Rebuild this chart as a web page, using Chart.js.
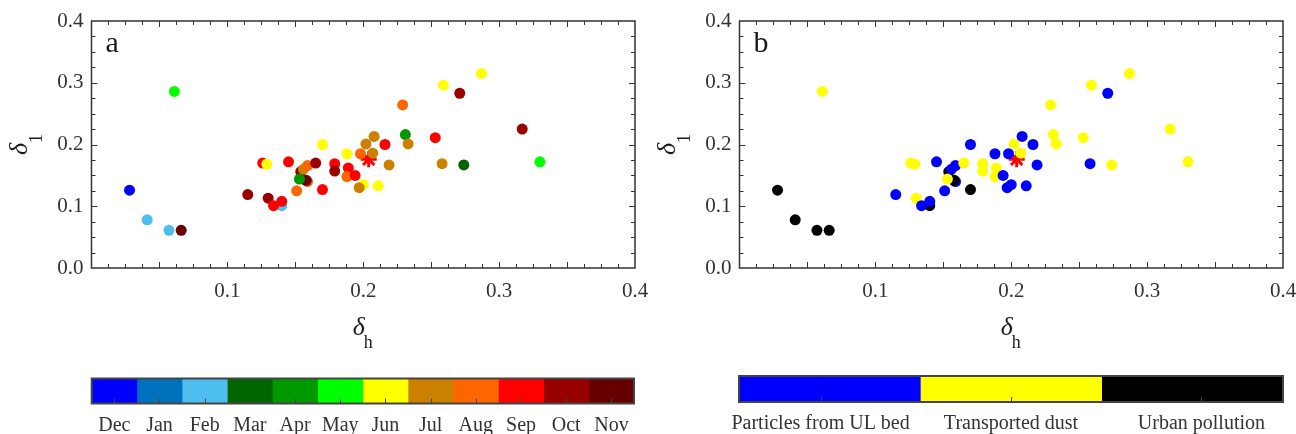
<!DOCTYPE html>
<html>
<head>
<meta charset="utf-8">
<script src="https://cdn.jsdelivr.net/npm/chart.js@4.4.1/dist/chart.umd.min.js"></script>
<style>
  body { margin: 0; background: #fff; }
  .wrap { position: relative; width: 1296px; height: 434px; }
  canvas { position: absolute; }
</style>
</head>
<body>
<div class="wrap">
  <canvas id="scatterA" width="648" height="360" style="left:0;top:0"></canvas>
  <canvas id="scatterB" width="648" height="360" style="left:648px;top:0"></canvas>
  <canvas id="barA" width="648" height="74" style="left:0;top:360px"></canvas>
  <canvas id="barB" width="648" height="74" style="left:648px;top:360px"></canvas>
</div>
<script>
// sample values: delta_h, delta_1, month of sample, source class
const deltaH = [0.028, 0.041, 0.057, 0.066, 0.061, 0.115, 0.126, 0.129, 0.130, 0.140,
                0.134, 0.140, 0.145, 0.151, 0.154, 0.156, 0.159, 0.159, 0.158, 0.153,
                0.165, 0.170, 0.170, 0.179, 0.179, 0.188, 0.189, 0.188, 0.194, 0.198,
                0.200, 0.197, 0.202, 0.208, 0.207, 0.216, 0.219, 0.211, 0.229, 0.231,
                0.233, 0.253, 0.258, 0.259, 0.271, 0.274, 0.287, 0.317, 0.330];
const delta1 = [0.126, 0.078, 0.061, 0.061, 0.286, 0.119, 0.170, 0.168, 0.113, 0.101,
                0.101, 0.108, 0.172, 0.125, 0.156, 0.160, 0.166, 0.140, 0.142, 0.144,
                0.170, 0.200, 0.127, 0.169, 0.157, 0.185, 0.162, 0.148, 0.150, 0.185,
                0.135, 0.130, 0.201, 0.213, 0.186, 0.200, 0.167, 0.133, 0.264, 0.216,
                0.201, 0.211, 0.169, 0.296, 0.283, 0.167, 0.315, 0.225, 0.172];
const sampleMonth = ['Dec', 'Feb', 'Feb', 'Nov', 'May', 'Oct', 'Sep', 'Jun', 'Oct', 'Feb',
                     'Sep', 'Sep', 'Sep', 'Aug', 'Oct', 'Jul', 'Aug', 'Aug', 'Nov', 'Apr',
                     'Oct', 'Jun', 'Sep', 'Sep', 'Oct', 'Jun', 'Sep', 'Aug', 'Sep', 'Aug',
                     'Jun', 'Jul', 'Jul', 'Jul', 'Jul', 'Sep', 'Jul', 'Jun', 'Aug', 'Apr',
                     'Jul', 'Sep', 'Jul', 'Jun', 'Oct', 'Mar', 'Jun', 'Oct', 'May'];
const sampleSource = [2, 2, 2, 2, 1, 0, 1, 1, 1, 2,
                      0, 0, 0, 0, 2, 0, 0, 0, 2, 1,
                      1, 0, 2, 1, 1, 0, 1, 1, 0, 0,
                      0, 0, 1, 0, 1, 0, 0, 0, 1, 1,
                      1, 1, 0, 1, 0, 1, 1, 1, 1];
// mean point (red star)
const meanH = [0.204];
const mean1 = [0.176];

const months = ['Dec', 'Jan', 'Feb', 'Mar', 'Apr', 'May', 'Jun', 'Jul', 'Aug', 'Sep', 'Oct', 'Nov'];
const monthColors = ['#0000ff', '#0072bd', '#4dbeee', '#006400', '#009900', '#00ff00',
                     '#ffff00', '#cc8000', '#ff6600', '#ff0000', '#990000', '#660000'];
const sources = ['Particles from UL bed', 'Transported dust', 'Urban pollution'];
const sourceColors = ['#0000ff', '#ffff00', '#000000'];
const sourceTicks = [0.45, 1.5, 2.55];
const monthTicks = months.map((m, i) => i + 0.5);

const xTicks = [0.1, 0.2, 0.3, 0.4];
const yTicks = [0.0, 0.1, 0.2, 0.3, 0.4];

const serif = '"Liberation Serif", "Times New Roman", serif';
const ink = '#333';

// box, inward ticks, axis titles and panel letter
const frame = {
  id: 'frame',
  afterDraw(chart, args, opts) {
    const { ctx, chartArea: a, scales: { x, y } } = chart;
    ctx.save();
    ctx.strokeStyle = ink;
    ctx.lineWidth = 1;
    ctx.beginPath();
    for (let v = 0.0125; v < 0.4; v += 0.0125) {
      const px = Math.round(x.getPixelForValue(v)) + 0.5;
      const len = Math.abs(v / 0.05 - Math.round(v / 0.05)) < 1e-6 ? 6 : 4;
      ctx.moveTo(px, a.bottom); ctx.lineTo(px, a.bottom - len);
      ctx.moveTo(px, a.top); ctx.lineTo(px, a.top + len);
    }
    for (let v = 0.025; v < 0.4; v += 0.025) {
      const py = Math.round(y.getPixelForValue(v)) + 0.5;
      const len = Math.abs(v / 0.1 - Math.round(v / 0.1)) < 1e-6 ? 6 : 4;
      ctx.moveTo(a.left, py); ctx.lineTo(a.left + len, py);
      ctx.moveTo(a.right, py); ctx.lineTo(a.right - len, py);
    }
    ctx.stroke();
    ctx.lineWidth = 1.5;
    ctx.strokeRect(a.left, a.top, a.right - a.left, a.bottom - a.top);

    ctx.fillStyle = '#1a1a1a';
    ctx.textBaseline = 'alphabetic';
    // x title: delta_h
    ctx.font = 'italic 26px ' + serif;
    const wd = ctx.measureText('δ').width;
    ctx.font = '18px ' + serif;
    const wh = ctx.measureText('h').width;
    const x0 = (a.left + a.right) / 2 - (wd + wh) / 2;
    ctx.font = 'italic 26px ' + serif;
    ctx.fillText('δ', x0, 335);
    ctx.font = '18px ' + serif;
    ctx.fillText('h', x0 + wd - 1, 348);
    // y title: delta_1
    ctx.save();
    ctx.translate(27, (a.top + a.bottom) / 2);
    ctx.rotate(-Math.PI / 2);
    ctx.font = '18px ' + serif;
    const w1 = ctx.measureText('1').width;
    const y0 = -(wd + w1) / 2;
    ctx.font = 'italic 26px ' + serif;
    ctx.fillText('δ', y0, 0);
    ctx.font = '18px ' + serif;
    ctx.fillText('1', y0 + wd, 15);
    ctx.restore();
    // panel letter
    ctx.font = '30px ' + serif;
    ctx.fillText(opts.letter, a.left + 14, 52);
    ctx.restore();
  }
};

function scatterPanel(id, colors, letter) {
  const pts = deltaH.map((h, i) => ({ x: h, y: delta1[i] }));
  return new Chart(document.getElementById(id), {
    type: 'scatter',
    data: {
      datasets: [{
        data: pts,
        pointRadius: 5.5,
        pointBorderWidth: 0,
        pointBackgroundColor: colors
      }, {
        data: meanH.map((h, i) => ({ x: h, y: mean1[i] })),
        pointStyle: 'star',
        pointRadius: 8,
        pointBorderWidth: 3,
        pointBorderColor: '#ff0000'
      }]
    },
    options: {
      responsive: false,
      animation: false,
      layout: { padding: { left: 0, top: 21, right: 13, bottom: 0 } },
      plugins: { legend: { display: false }, tooltip: { enabled: false }, frame: { letter } },
      scales: {
        x: {
          type: 'linear', min: 0, max: 0.4,
          afterBuildTicks: s => { s.ticks = xTicks.map(v => ({ value: v })); },
          afterFit: s => { s.height = 92; s.paddingLeft = 0; s.paddingRight = 0; },
          grid: { display: false, drawTicks: false },
          border: { display: false },
          ticks: { font: { family: serif, size: 21 }, color: ink, padding: 11, maxRotation: 0,
                   callback: v => v.toFixed(1) }
        },
        y: {
          type: 'linear', min: 0, max: 0.4,
          afterBuildTicks: s => { s.ticks = yTicks.map(v => ({ value: v })); },
          afterFit: s => { s.width = 91.5; s.paddingTop = 0; s.paddingBottom = 0; },
          grid: { display: false, drawTicks: false },
          border: { display: false },
          ticks: { font: { family: serif, size: 21 }, color: ink, padding: 8,
                   callback: v => v.toFixed(1) }
        }
      }
    },
    plugins: [frame]
  });
}

scatterPanel('scatterA', sampleMonth.map(m => monthColors[months.indexOf(m)]), 'a');
scatterPanel('scatterB', sampleSource.map(s => sourceColors[s]), 'b');

// colour bar outline and small inner ticks
const barFrame = {
  id: 'barFrame',
  afterDraw(chart, args, opts) {
    const { ctx, chartArea: a, scales: { x } } = chart;
    ctx.save();
    ctx.strokeStyle = '#444';
    ctx.lineWidth = 1;
    ctx.beginPath();
    opts.ticks.forEach(v => {
      const px = Math.round(x.getPixelForValue(v)) + 0.5;
      ctx.moveTo(px, a.bottom); ctx.lineTo(px, a.bottom - 5);
    });
    ctx.stroke();
    ctx.lineWidth = 2;
    ctx.strokeRect(a.left, a.top, a.right - a.left, a.bottom - a.top);
    ctx.restore();
  }
};

function colorBar(id, names, colors, tickPos, pad) {
  return new Chart(document.getElementById(id), {
    type: 'bar',
    data: {
      labels: [''],
      datasets: names.map((n, i) => ({
        label: n, data: [1], backgroundColor: colors[i], borderWidth: 0,
        barPercentage: 1, categoryPercentage: 1
      }))
    },
    options: {
      indexAxis: 'y',
      responsive: false,
      animation: false,
      layout: { padding: pad },
      plugins: { legend: { display: false }, tooltip: { enabled: false }, barFrame: { ticks: tickPos } },
      scales: {
        x: {
          type: 'linear', stacked: true, min: 0, max: names.length,
          afterBuildTicks: s => { s.ticks = tickPos.map(v => ({ value: v })); },
          afterFit: s => { s.height = 74 - pad.top - pad.h; s.paddingLeft = 0; s.paddingRight = 0; },
          grid: { display: false, drawTicks: false },
          border: { display: false },
          ticks: { font: { family: serif, size: 20 }, color: ink, padding: 10, maxRotation: 0, autoSkip: false,
                   callback: (v, i) => names[i] }
        },
        y: { stacked: true, display: false }
      }
    },
    plugins: [barFrame]
  });
}

colorBar('barA', months, monthColors, monthTicks, { left: 91.7, right: 14, top: 18.5, bottom: 0, h: 25 });
colorBar('barB', sources, sourceColors, sourceTicks, { left: 91, right: 13, top: 16, bottom: 0, h: 26 });
</script>
</body>
</html>
